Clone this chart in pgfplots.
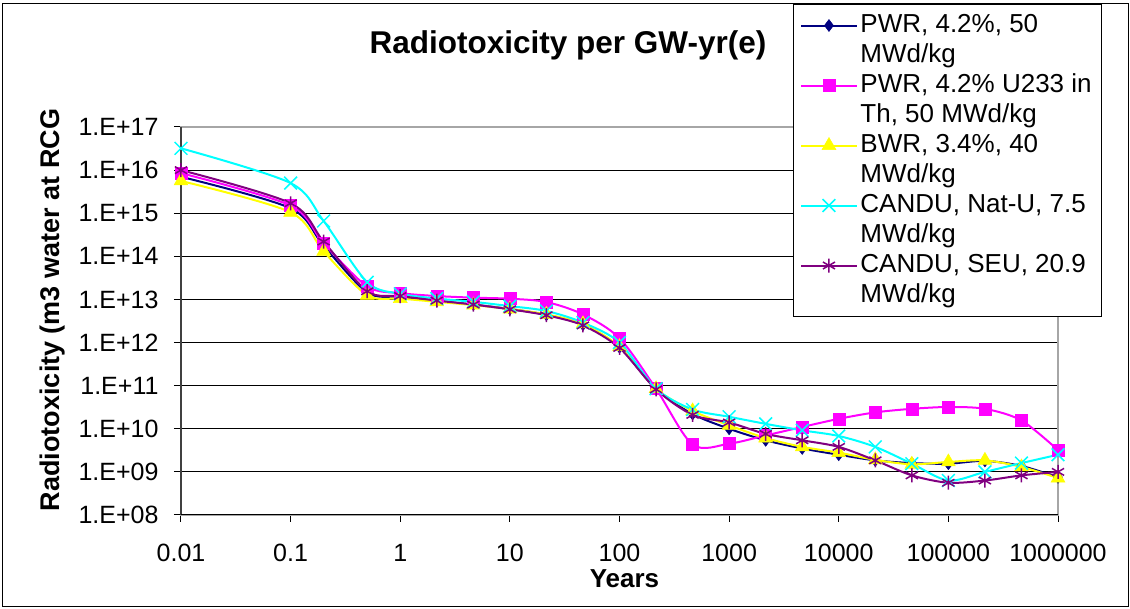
\documentclass[border=0pt]{standalone}
\usepackage{fontspec}
\setmainfont{Liberation Sans}
\usepackage{pgfplots}
\usepackage{pgfplotstable}
\pgfplotsset{compat=1.18}
\definecolor{cnavy}{HTML}{000080}
\definecolor{cmag}{HTML}{FF00FF}
\definecolor{cyel}{HTML}{FFFF00}
\definecolor{ccya}{HTML}{00FFFF}
\definecolor{cpur}{HTML}{800080}

\pgfplotstableread{
x       navy     mag      yel      cya      pur
0.01    7.0e15   8.5e15   5.6e15   3.2e16   1.0e16
0.1     1.3e15   1.5e15   1.05e15  5.0e15   1.7e15
0.2     1.75e14  2.0e14   1.3e14   6.6e14   2.2e14
0.5     1.45e13  2.0e13   1.25e13  2.5e13   1.55e13
1       1.15e13  1.4e13   1.05e13  1.35e13  1.2e13
2.154   9.3e12   1.2e13   8.8e12   1.05e13  9.4e12
4.642   7.6e12   1.1e13   7.4e12   8.8e12   7.6e12
10      6.0e12   1.04e13  6.0e12   7.0e12   5.9e12
21.54   4.4e12   8.7e12   4.5e12   5.4e12   4.3e12
46.42   2.6e12   4.5e12   2.7e12   2.9e12   2.5e12
100     7.8e11   1.26e12  8.0e11   1.0e12   7.5e11
215.4   8.3e10   8.5e10   8.5e10   8.5e10   8.2e10
464.2   2.2e10   4.3e9    2.6e10   2.8e10   2.1e10
1000    1.0e10   4.5e9    1.2e10   1.9e10   1.4e10
2154    5.4e9    7.0e9    6.1e9    1.3e10   7.6e9
4642    3.5e9    1.1e10   3.8e9    9.2e9    5.4e9
10000   2.5e9    1.7e10   2.8e9    6.8e9    3.8e9
21544   1.85e9   2.4e10   1.9e9    3.8e9    1.85e9
46416   1.6e9    2.9e10   1.5e9    1.55e9   8.3e8
100000  1.55e9   3.2e10   1.7e9    6.3e8    5.6e8
215443  1.8e9    2.9e10   1.85e9   1.0e9    6.3e8
464159  1.37e9   1.56e10  1.3e9    1.6e9    8.3e8
1000000 7.5e8    3.2e9    7.2e8    2.5e9    1.0e9
}\datatable

\begin{document}
\begin{tikzpicture}
\useasboundingbox (0,0) rectangle (1130pt,608pt);
\draw[black, line width=1pt] (2.5pt,2pt) rectangle (1128pt,604pt);
\begin{axis}[
  at={(181pt,93pt)}, anchor=south west,
  scale only axis, width=877pt, height=388pt,
  xmode=log, ymode=log,
  xmin=0.01, xmax=1e6, ymin=1e8, ymax=1e17,
  clip=false,
  axis line style={gray!70, line width=1.5pt},
  tick pos=left, tick align=outside,
  major tick length=7pt,
  tick style={black, line width=1pt},
  xminorticks=false, yminorticks=false,
  ymajorgrids, major grid style={black, line width=0.8pt},
  xtick={0.01,0.1,1,10,100,1000,10000,100000,1000000},
  xticklabels={0.01,0.1,1,10,100,1000,10000,100000,1000000},
  ytick={1e8,1e9,1e10,1e11,1e12,1e13,1e14,1e15,1e16,1e17},
  yticklabels={1.E+08,1.E+09,1.E+10,1.E+11,1.E+12,1.E+13,1.E+14,1.E+15,1.E+16,1.E+17},
  xticklabel style={font=\fontsize{25}{30}\selectfont, inner sep=0pt, yshift=-22pt},
  yticklabel style={font=\fontsize{25}{30}\selectfont, xshift=-12pt},
  title={Radiotoxicity per GW-yr(e)},
  title style={font=\bfseries\fontsize{31.5}{36}\selectfont, at={(axis description cs:0.4413,1.1727)}, anchor=base},
  xlabel={Years},
  every axis x label/.style={at={(axis description cs:0.5057,-0.1856)}, anchor=base, inner sep=0pt, font=\bfseries\fontsize{26}{30}\selectfont},
  ylabel={Radiotoxicity (m3 water at RCG},
  every axis y label/.style={at={(axis description cs:-0.138,0.5284)}, rotate=90, anchor=base, font=\bfseries\fontsize{27}{32}\selectfont},
  legend cell align=left,
  legend image code/.code={\draw[mark repeat=2,mark phase=2] plot coordinates {(0pt,0pt) (27.5pt,0pt) (55pt,0pt)};},
  legend style={at={(axis description cs:0.6978,1.317)}, anchor=north west,
    draw=black, line width=1pt, fill=white,
    font=\fontsize{26}{30}\selectfont,
    inner xsep=7pt, inner ysep=6pt, row sep=0pt, column sep=0pt,
    nodes={inner xsep=3pt, inner ysep=1pt, text height=21pt, text depth=7pt}},
]
\draw[black!75, line width=1.5pt] (rel axis cs:0,0) -- (rel axis cs:0,1);
\draw[black, line width=1pt] (rel axis cs:0,0) -- (rel axis cs:1,0);
\addplot[cnavy, line width=2pt, smooth, mark=diamond*, mark size=6pt, mark options={solid, fill=cnavy, line width=0.5pt}] table[x=x, y=navy]{\datatable};
\addlegendentry{PWR, 4.2\%, 50}
\addlegendimage{white, mark=none, line width=0.1pt}
\addlegendentry{MWd/kg}
\addplot[cmag, line width=2pt, smooth, mark=square*, mark size=6pt, mark options={solid, fill=cmag, line width=0.5pt}] table[x=x, y=mag]{\datatable};
\addlegendentry{PWR, 4.2\% U233 in}
\addlegendimage{white, mark=none, line width=0.1pt}
\addlegendentry{Th, 50 MWd/kg}
\addplot[cyel, line width=2pt, smooth, mark=triangle*, mark size=8pt, mark options={solid, fill=cyel, line width=0.5pt}] table[x=x, y=yel]{\datatable};
\addlegendentry{BWR, 3.4\%, 40}
\addlegendimage{white, mark=none, line width=0.1pt}
\addlegendentry{MWd/kg}
\addplot[ccya, line width=2pt, smooth, mark=x, mark size=9pt, mark options={solid, line width=1.5pt}] table[x=x, y=cya]{\datatable};
\addlegendentry{CANDU, Nat-U, 7.5}
\addlegendimage{white, mark=none, line width=0.1pt}
\addlegendentry{MWd/kg}
\addplot[cpur, line width=2pt, smooth, mark=asterisk, mark size=7pt, mark options={solid, line width=1.5pt}] table[x=x, y=pur]{\datatable};
\addlegendentry{CANDU, SEU, 20.9}
\addlegendimage{white, mark=none, line width=0.1pt}
\addlegendentry{MWd/kg}
\end{axis}
\end{tikzpicture}
\end{document}
